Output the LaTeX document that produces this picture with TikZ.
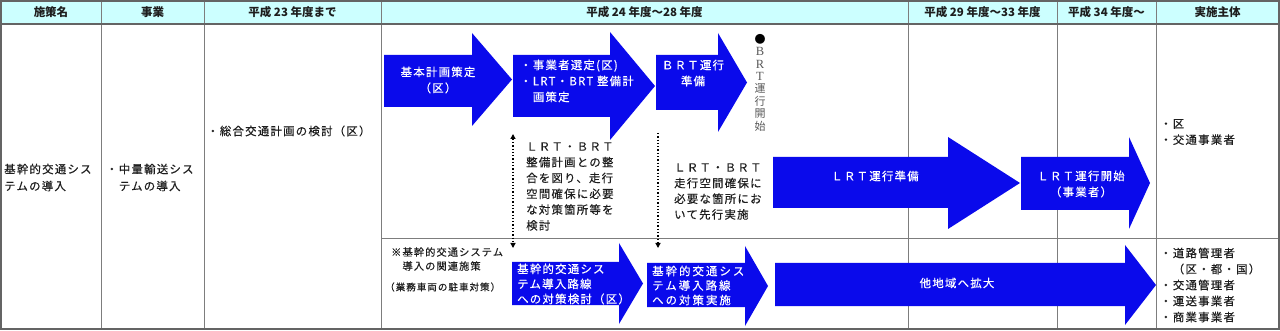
\documentclass[tikz,border=0pt]{standalone}
\usepackage{fontspec}
\setmainfont{Noto Sans CJK JP}
\newfontfamily\jp{Noto Sans CJK JP}[LetterSpace=11, FakeBold=0.4]
\newfontfamily\jpw{Noto Sans CJK JP}[LetterSpace=18, FakeBold=0.4]
\newfontfamily\serifl{Liberation Serif}
\usetikzlibrary{arrows.meta}
\definecolor{arrowblue}{RGB}{10,10,235}
\definecolor{headfill}{RGB}{204,255,255}
\definecolor{gridgray}{RGB}{125,125,125}
\definecolor{txtgray}{RGB}{30,30,30}
\newcommand\blockarr[7]{%
  \fill[arrowblue] (#1,#4) -- (#2,#4) -- (#2,#6) -- (#3,{(#6+#7)/2}) -- (#2,#7) -- (#2,#5) -- (#1,#5) -- cycle;}
\tikzset{
  intxt/.style={text=white, inner sep=0pt, align=center, font=\jp\fontsize{11.4}{16}\selectfont},
  inltxt/.style={text=white, inner sep=0pt, anchor=west, align=left, font=\jp\fontsize{11.4}{16}\selectfont},
  lefttxt/.style={text=txtgray, anchor=west, align=left, inner sep=0pt, font=\jp\fontsize{11.4}{16}\selectfont},
  headtxt/.style={inner sep=0pt, text=txtgray, font=\bfseries\fontsize{11.5}{13}\selectfont},
  gridline/.style={draw=gridgray, line width=1pt},
  gridthick/.style={draw=gridgray!80!black, line width=1.6pt},
  dotconn/.style={dotted, line width=1.3pt, black},
  tipstyle/.tip={Triangle[length=5pt,width=5pt]}
}
\begin{document}
\begin{tikzpicture}[x=1pt,y=-1pt]
\useasboundingbox (0,0) rectangle (1280,331);
% header
\fill[headfill] (1,1) rectangle (1279,24);
% grid
\draw[gridline] (101,1) -- (101,329);
\draw[gridline] (204,1) -- (204,329);
\draw[gridline] (381,1) -- (381,329);
\draw[gridline] (908,1) -- (908,329);
\draw[gridline] (1057,1) -- (1057,329);
\draw[gridline] (1156,1) -- (1156,329);
\draw[gridline] (381,239) -- (1279,239);
\draw[gridthick] (1,24) -- (1279,24);
\draw[gridthick] (1,1) rectangle (1279,329);
% header texts
\node[headtxt] (h1) at (51,12.5) {施策名};
\node[headtxt] (h2) at (152.5,12.5) {事業};
\node[headtxt] (h3) at (292.5,12.5) {平成 23 年度まで};
\node[headtxt] (h4) at (644.5,12.5) {平成 24 年度～28 年度};
\node[headtxt] (h5) at (982.5,12.5) {平成 29 年度～33 年度};
\node[headtxt] (h6) at (1106.5,12.5) {平成 34 年度～};
\node[headtxt] (h7) at (1217.5,12.5) {実施主体};
% left columns
\node[lefttxt, font=\jp\fontsize{11.4}{17}\selectfont] (c1) at (4,177.5) {基幹的交通シス\\テムの導入};
\node[lefttxt, font=\jp\fontsize{11.4}{17}\selectfont] (c2) at (106,177.5) {・中量輸送シス\\　テムの導入};
\node[lefttxt] (c3) at (207,131) {・総合交通計画の検討（区）};
% arrows top row
\blockarr{384}{472}{512}{55}{107}{33}{126}
\node[intxt] (a1) at (438,80) {基本計画策定\\（区）};
\blockarr{513}{610}{655}{55}{117}{32}{140}
\node[inltxt] (a2) at (520,81) {・事業者選定(区)\\・LRT・BRT 整備計\\　画策定};
\blockarr{656}{718}{747}{55}{110}{33}{132}
\node[intxt] (a3) at (693,73) {ＢＲＴ運行\\準備};
\node[inner sep=0pt, align=center, text=black!65, font=\fontsize{11}{12.4}\selectfont] (brt) at (760,82.5)
  {\textcolor{black}{●}\\{\serifl\fontsize{12.5}{12.4}\selectfont B}\\{\serifl\fontsize{12.5}{12.4}\selectfont R}\\{\serifl\fontsize{12.5}{12.4}\selectfont T}\\運\\行\\開\\始};
\blockarr{773}{948}{1020}{157}{208}{137}{229}
\node[intxt] (a4) at (875,176) {ＬＲＴ運行準備};
\blockarr{1021}{1129}{1150}{157}{210}{137}{229}
\node[intxt] (a5) at (1081,184) {ＬＲＴ運行開始\\（事業者）};
% middle notes
\node[lefttxt, font=\jp\fontsize{11.4}{15.8}\selectfont] (m1) at (526,186.5)
  {ＬＲＴ・ＢＲＴ\\整備計画との整\\合を図り、走行\\空間確保に必要\\な対策箇所等を\\検討};
\node[lefttxt, font=\jp\fontsize{11.4}{15.7}\selectfont] (m2) at (674,191.5)
  {ＬＲＴ・ＢＲＴ\\走行空間確保に\\必要な箇所にお\\いて先行実施};
% bottom row
\node[lefttxt, font=\jp\fontsize{10.2}{14}\selectfont] (n1) at (391,259) {※基幹的交通システム\\　導入の関連施策};
\node[lefttxt, font=\jp\fontsize{9.5}{12}\selectfont] (n2) at (385,287) {（業務車両の駐車対策）};
\blockarr{512}{619}{643}{262}{305}{243}{324}
\node[inltxt, font=\jp\fontsize{11.4}{15}\selectfont] (a6) at (517,284) {基幹的交通シス\\テム導入路線\\への対策検討（区）};
\blockarr{647}{745}{768}{263}{307}{246}{326}
\node[inltxt, font=\jpw\fontsize{11.4}{14.5}\selectfont] (a7) at (652,285.5) {基幹的交通シス\\テム導入路線\\への対策実施};
\blockarr{775}{1125}{1156}{263}{306}{245}{325}
\node[intxt] (a8) at (957,283) {他地域へ拡大};
% dotted connectors
\coordinate (d1t) at (513,134);
\coordinate (d1b) at (513,248);
\coordinate (d2t) at (658,133);
\coordinate (d2b) at (658,248);
\draw[dotconn, tipstyle-tipstyle] (d1t) -- (d1b);
\draw[dotconn, -tipstyle] (d2t) -- (d2b);
% right column
\node[lefttxt] (r1) at (1160,132) {・区\\・交通事業者};
\node[lefttxt] (r2) at (1160,285) {・道路管理者\\　（区・都・国）\\・交通管理者\\・運送事業者\\・商業事業者};
\end{tikzpicture}
\end{document}
